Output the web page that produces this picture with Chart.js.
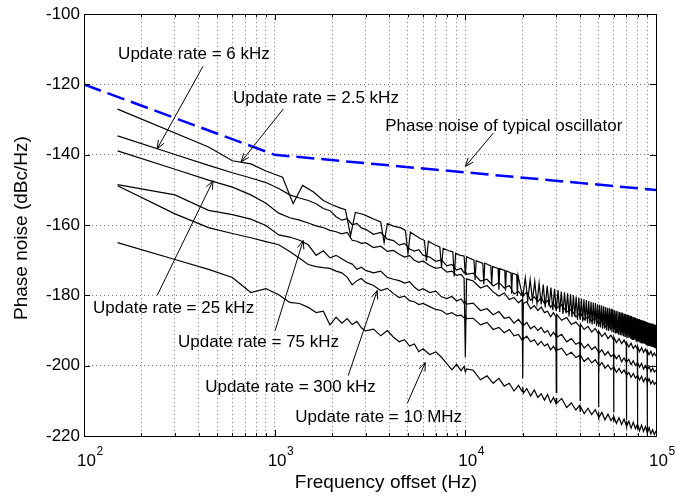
<!DOCTYPE html>
<html>
<head>
<meta charset="utf-8">
<title>Phase noise vs frequency offset</title>
<script src="https://cdn.jsdelivr.net/npm/chart.js@4.4.1/dist/chart.umd.min.js"></script>
<style>
    html, body { margin: 0; padding: 0; background: #fff; }
    #wrap { position: relative; width: 686px; height: 497px; }
</style>
</head>
<body>
<div id="wrap"><canvas id="pnChart"></canvas></div>
<script>
// ===================================
// PHASE NOISE vs FREQUENCY OFFSET
// ===================================

// Frequency bins (Hz) shared by the 6k / 25k / 75k / 300k / 10M curves
const freqGrid = [
    150, 300, 450, 600, 750, 900, 1050, 1200, 1350, 1500, 1650, 1800, 1950, 2100, 2250, 2400, 2550, 2700, 2850, 3000,
    3300, 3600, 3900, 4200, 4500, 4800, 5100, 5400, 5700, 6000,
    6500, 7000, 7500, 8000, 8500, 9000, 9500, 9850, 10000, 10150,
    11000, 12000, 13000, 14000, 15000, 16000, 17000, 18000, 19000, 19850, 20000, 20150,
    21000, 22000, 23000, 24000, 25000, 26000, 27000, 28000, 29000, 29850, 30000, 30150,
    32000, 34000, 36000, 38000, 39850, 40000, 40150, 42000, 44000, 46000, 48000, 49850, 50000, 50150,
    52000, 54000, 56000, 58000, 59850, 60000, 60150, 62000, 64000, 66000, 68000, 69850, 70000, 70150,
    72000, 74000, 76000, 78000, 79850, 80000, 80150, 82000, 84000, 86000, 88000, 89850, 90000, 90150,
    92000, 94000, 96000, 98000, 100000
];

// Update rate = 6 kHz (dBc/Hz)
const pnRate6k = [
    -134.6, -139.9, -143.0, -145.1, -146.6, -147.9, -149.6, -151.4, -152.3, -153.0, -153.9, -155.3, -155.9, -157.6, -158.6, -158.2, -159.9, -159.5, -160.8, -161.2,
    -162.6, -162.1, -164.0, -164.4, -165.7, -165.2, -166.8, -167.4, -167.0, -168.6,
    -169.1, -170.3, -169.9, -171.6, -171.2, -172.8, -172.3, -173.6, -173.1, -174.0,
    -173.7, -175.9, -175.4, -177.3, -176.3, -177.9, -177.2, -179.6, -178.9, -180.1, -179.0, -180.0,
    -179.1, -181.4, -180.4, -181.8, -180.6, -182.3, -181.5, -183.4, -182.3, -183.8, -182.7, -183.6,
    -182.7, -184.7, -184.1, -186.1, -185.1, -186.2, -185.0, -186.9, -186.1, -187.3, -186.3, -188.1, -187.1, -188.3,
    -187.1, -189.0, -188.3, -189.5, -188.4, -189.5, -188.6, -190.3, -189.0, -190.4, -189.4, -191.0, -190.1, -191.1,
    -190.1, -191.8, -190.7, -191.9, -190.8, -192.1, -191.0, -192.6, -191.7, -192.9, -191.8, -193.0, -192.1, -193.5,
    -192.4, -193.6, -192.4, -194.1, -193.3
];

// Update rate = 25 kHz (with the deep spurs every 10 kHz)
const pnRate25k = [
    -138.9, -144.1, -147.2, -149.2, -151.4, -153.8, -156.6, -157.9, -158.6, -159.4, -160.2, -160.7, -161.5, -161.9, -162.5, -162.1, -164.3, -164.6, -165.2, -165.0,
    -166.4, -166.0, -167.5, -167.2, -168.3, -169.1, -168.7, -170.0, -170.6, -170.2,
    -171.5, -172.3, -172.0, -173.4, -173.1, -174.3, -174.0, -175.1, -197.6, -175.3,
    -175.9, -177.9, -177.2, -179.0, -180.2, -179.3, -181.2, -180.6, -182.1, -181.2, -203.6, -182.3,
    -181.8, -183.8, -182.9, -184.3, -183.3, -184.9, -184.5, -186.1, -184.9, -186.1, -207.6, -185.4,
    -187.1, -186.3, -188.3, -187.6, -188.9, -209.9, -188.2, -189.7, -188.8, -190.4, -189.4, -190.9, -211.8, -190.2,
    -191.7, -190.7, -192.3, -191.3, -192.7, -213.3, -191.8, -193.4, -192.3, -193.7, -192.7, -194.1, -215.5, -193.4,
    -194.7, -193.6, -195.1, -194.2, -195.3, -216.4, -194.5, -196.0, -194.8, -196.2, -195.3, -196.5, -218.4, -195.7,
    -196.9, -195.9, -197.2, -196.4, -197.3
];

// Update rate = 75 kHz
const pnRate75k = [
    -148.5, -151.4, -155.8, -157.0, -158.3, -160.1, -162.8, -163.4, -164.3, -165.6, -168.6, -167.3, -169.3, -168.6, -169.6, -170.5, -171.1, -172.6, -172.0, -172.9,
    -173.6, -173.1, -174.9, -175.4, -175.8, -176.5, -176.1, -177.6, -178.6, -178.1,
    -179.2, -178.8, -180.4, -180.9, -180.3, -181.6, -181.0, -182.2, -181.7, -182.5,
    -182.2, -184.3, -183.8, -185.5, -184.6, -186.5, -186.2, -187.9, -186.8, -188.2, -187.4, -188.6,
    -187.7, -189.5, -188.7, -190.0, -189.1, -190.6, -190.0, -191.6, -190.5, -191.6, -190.9, -191.9,
    -191.1, -193.2, -192.3, -193.9, -193.3, -194.4, -193.3, -195.0, -193.9, -195.4, -194.6, -196.0, -195.3, -196.5,
    -195.5, -197.0, -196.0, -197.4, -196.8, -198.0, -196.7, -198.0, -197.0, -198.9, -197.8, -199.0, -197.9, -198.9,
    -198.2, -199.7, -198.6, -199.9, -199.2, -200.3, -199.1, -200.4, -199.3, -201.0, -200.0, -201.1, -200.1, -201.2,
    -200.2, -201.7, -200.7, -201.8, -201.2
];

// Update rate = 300 kHz
const pnRate300k = [
    -148.8, -156.8, -160.7, -162.4, -163.6, -164.7, -165.6, -167.5, -169.4, -171.2, -171.8, -172.1, -172.3, -173.1, -173.6, -174.8, -177.0, -175.8, -175.2, -176.3,
    -177.2, -178.6, -178.0, -179.5, -180.6, -180.2, -181.5, -181.8, -182.6, -182.3,
    -183.2, -184.0, -184.3, -185.4, -184.9, -185.8, -185.6, -186.4, -185.9, -186.6,
    -186.5, -188.4, -187.7, -189.7, -189.1, -190.6, -189.7, -191.5, -191.1, -192.7, -191.4, -192.4,
    -191.6, -193.2, -192.6, -194.1, -193.1, -194.4, -193.8, -195.5, -194.5, -195.7, -194.7, -195.6,
    -195.0, -197.0, -196.2, -197.7, -197.1, -198.2, -197.0, -198.8, -197.8, -199.2, -198.3, -199.7, -198.9, -200.2,
    -199.1, -200.7, -199.8, -201.1, -200.4, -201.5, -200.3, -201.9, -200.8, -202.1, -201.2, -202.5, -201.6, -202.7,
    -201.9, -203.3, -202.2, -203.5, -202.8, -203.8, -202.7, -204.1, -203.0, -204.6, -203.5, -204.6, -203.6, -204.8,
    -203.7, -205.2, -204.3, -205.3, -204.7
];

// Update rate = 10 MHz
const pnRate10M = [
    -165.0, -169.8, -172.6, -174.9, -179.2, -178.1, -179.8, -182.0, -182.3, -183.4, -184.9, -184.5, -188.4, -186.2, -187.9, -186.6, -188.3, -187.4, -189.2, -190.1,
    -189.6, -191.5, -190.0, -191.9, -193.2, -192.6, -194.4, -193.8, -196.0, -195.2,
    -196.8, -196.1, -197.6, -199.4, -201.2, -199.6, -201.4, -200.2, -201.8, -200.9,
    -201.3, -204.0, -202.9, -205.0, -203.6, -205.8, -205.0, -207.2, -205.6, -207.3, -206.1, -207.8,
    -206.5, -208.6, -206.9, -209.0, -208.0, -209.8, -208.2, -210.5, -209.0, -210.7, -209.1, -210.7,
    -209.3, -211.9, -210.6, -212.6, -211.2, -213.0, -211.6, -213.6, -212.1, -213.9, -212.5, -214.4, -213.1, -214.8,
    -213.3, -215.4, -213.8, -215.6, -214.6, -216.0, -214.4, -216.4, -214.8, -216.7, -215.2, -217.0, -215.7, -217.3,
    -215.8, -217.8, -216.1, -217.9, -216.7, -218.2, -216.6, -218.5, -216.9, -218.7, -217.3, -219.0, -217.6, -219.2,
    -217.6, -219.4, -218.2, -219.6, -218.6
];

// Update rate = 2.5 kHz has its own bins (comb of spurs every 1.25 kHz)
const freqRate2k5 = [
    150, 450, 600, 750, 900, 1100, 1250, 1400, 1600, 1800, 2000, 2200, 2350, 2500, 2650, 2900, 3100, 3350, 3600, 3750,
    3900, 4200, 4600, 4850, 5000, 5150, 5500, 5800, 6100, 6250, 6400, 6900, 7350, 7500, 7650, 8200, 8600, 8750, 8900, 9400,
    9850, 10000, 10150, 11100, 11250, 11400, 12350, 12500, 12650, 13600, 13750, 13900,
    14850, 15000, 15150, 16100, 16250, 16400, 17350, 17500, 17650, 18600, 18750, 18900,
    20000, 20625, 21250, 21875, 22500, 23125, 23750, 24375, 25000, 25625, 26250, 26875, 27500, 28125, 28750, 29375,
    30000, 30625, 31250, 31875, 32500, 33125, 33750, 34375, 35000, 35625, 36250, 36875, 37500, 38125, 38750, 39375,
    40000, 40625, 41250, 41875, 42500, 43125, 43750, 44375, 45000, 45625, 46250, 46875, 47500, 48125, 48750, 49375,
    50000, 50625, 51250, 51875, 52500, 53125, 53750, 54375, 55000, 55625, 56250, 56875, 57500, 58125, 58750, 59375,
    60000, 60625, 61250, 61875, 62500, 63125, 63750, 64375, 65000, 65625, 66250, 66875, 67500, 68125, 68750, 69375,
    70000, 70625, 71250, 71875, 72500, 73125, 73750, 74375, 75000, 75625, 76250, 76875, 77500, 78125, 78750, 79375,
    80000, 80625, 81250, 81875, 82500, 83125, 83750, 84375, 85000, 85625, 86250, 86875, 87500, 88125, 88750, 89375,
    90000, 90625, 91250, 91875, 92500, 93125, 93750, 94375, 95000, 95625, 96250, 96875, 97500, 98125, 98750, 99375,
    100000
];
const pnRate2k5 = [
    -127.0, -137.8, -141.7, -142.6, -144.6, -146.4, -153.9, -148.7, -150.6, -153.0, -154.2, -155.1, -155.6, -163.0, -156.4, -156.9, -157.6, -158.4, -159.1, -165.0,
    -159.6, -160.3, -160.8, -161.5, -168.1, -162.0, -163.0, -163.8, -164.4, -170.2, -164.6, -165.6, -166.2, -172.0, -166.6, -167.3, -167.6, -174.6, -168.0, -168.6,
    -168.8, -174.2, -169.0, -170.0, -175.6, -170.1, -170.9, -176.8, -170.8, -171.6, -177.0, -171.8,
    -172.3, -178.4, -172.4, -172.9, -178.6, -173.0, -173.6, -179.5, -173.7, -174.1, -180.2, -174.3,
    -180.6, -175.0, -181.5, -175.5, -181.4, -176.0, -182.3, -176.5, -182.6, -176.9, -183.4, -177.3, -183.1, -177.8, -184.2, -178.1,
    -184.5, -178.5, -184.7, -178.9, -185.3, -179.1, -185.1, -179.4, -186.0, -179.7, -186.2, -180.0, -186.0, -180.3, -186.9, -180.6,
    -187.0, -180.9, -187.4, -181.1, -187.2, -181.3, -187.9, -181.6, -188.0, -181.8, -188.3, -182.0, -188.1, -182.2, -188.8, -182.5,
    -189.0, -182.7, -189.1, -182.9, -189.5, -183.1, -189.4, -183.3, -189.9, -183.5, -190.1, -183.6, -190.0, -183.8, -190.5, -184.0,
    -190.6, -184.2, -190.8, -184.4, -190.7, -184.5, -191.2, -184.7, -191.3, -184.9, -191.4, -185.0, -191.6, -185.2, -191.8, -185.3,
    -192.0, -185.5, -192.1, -185.6, -192.0, -185.8, -192.4, -185.9, -192.5, -186.1, -192.7, -186.2, -192.6, -186.4, -193.0, -186.5,
    -193.1, -186.7, -193.2, -186.8, -193.3, -186.9, -193.5, -187.0, -193.6, -187.2, -193.7, -187.3, -193.8, -187.4, -194.0, -187.6,
    -194.1, -187.7, -194.2, -187.8, -194.3, -187.9, -194.5, -188.0, -194.6, -188.1, -194.7, -188.2, -194.8, -188.3, -195.0, -188.5,
    -195.1
];

// Phase noise of a typical oscillator
const freqOsc = [100, 1000, 100000];
const pnOsc = [-120, -140, -150];

// Axis ticks
const xTickValues = [
    100, 200, 300, 400, 500, 600, 700, 800, 900,
    1000, 2000, 3000, 4000, 5000, 6000, 7000, 8000, 9000,
    10000, 20000, 30000, 40000, 50000, 60000, 70000, 80000, 90000,
    100000
];
const xMajor = [100, 1000, 10000, 100000];
const xExponents = [2, 3, 4, 5];

// Text annotations with arrows (data coordinates: [Hz, dBc/Hz])
const notes = [
    { text: 'Update rate = 6 kHz', at: [151, -111.4], from: [421, -114.8], to: [242, -138.3] },
    { text: 'Update rate = 2.5 kHz', at: [605, -123.8], from: [1108, -127.0], to: [667, -142.0] },
    { text: 'Phase noise of typical oscillator', at: [3800, -131.8], from: [14030, -133.8], to: [10000, -143.3] },
    { text: 'Update rate = 25 kHz', at: [111.5, -183.7], from: [242, -180.0], to: [475, -147.4] },
    { text: 'Update rate = 75 kHz', at: [311, -193.4], from: [1006, -190.0], to: [1411, -164.4] },
    { text: 'Update rate = 300 kHz', at: [432, -206.2], from: [2431, -202.8], to: [3451, -178.6] },
    { text: 'Update rate = 10 MHz', at: [1283, -214.7], from: [4961, -210.7], to: [6166, -199.1] }
];

const FONT = '"Liberation Sans", Arial, Helvetica, sans-serif';
Chart.defaults.font.family = FONT;

function toPoints(freqs, values) {
    return freqs.map((f, i) => ({ x: f, y: values[i] }));
}

function blackCurve(label, freqs, values) {
    return {
        label: label,
        data: toPoints(freqs, values),
        borderColor: '#000',
        borderWidth: 1.2,
        pointRadius: 0,
        tension: 0,
        fill: false
    };
}

// Open arrowhead like MATLAB annotations
function drawArrow(ctx, x0, y0, x1, y1) {
    ctx.beginPath();
    ctx.moveTo(x0, y0);
    ctx.lineTo(x1, y1);
    ctx.stroke();
    const ang = Math.atan2(y1 - y0, x1 - x0);
    const len = 9;
    const spread = 0.38;
    ctx.beginPath();
    ctx.moveTo(x1 - len * Math.cos(ang - spread), y1 - len * Math.sin(ang - spread));
    ctx.lineTo(x1, y1);
    ctx.lineTo(x1 - len * Math.cos(ang + spread), y1 - len * Math.sin(ang + spread));
    ctx.stroke();
}

// Box, inward ticks, x labels with exponents, axis titles, annotations
const frame = {
    id: 'frame',
    afterDraw(chart) {
        const { ctx, chartArea: area, scales: { x, y } } = chart;
        ctx.save();
        ctx.strokeStyle = '#000';
        ctx.lineWidth = 1;

        ctx.beginPath();
        xTickValues.forEach(v => {
            const px = Math.round(x.getPixelForValue(v)) + 0.5;
            const len = xMajor.includes(v) ? 6 : 3;
            ctx.moveTo(px, area.bottom);
            ctx.lineTo(px, area.bottom - len);
            ctx.moveTo(px, area.top);
            ctx.lineTo(px, area.top + len);
        });
        y.ticks.forEach(t => {
            const py = Math.round(y.getPixelForValue(t.value)) + 0.5;
            ctx.moveTo(area.left, py);
            ctx.lineTo(area.left + 6, py);
            ctx.moveTo(area.right, py);
            ctx.lineTo(area.right - 6, py);
        });
        ctx.stroke();

        ctx.strokeRect(Math.round(area.left) + 0.5, Math.round(area.top) + 0.5,
            Math.round(area.right - area.left), Math.round(area.bottom - area.top));

        // x tick labels: 10^n
        ctx.fillStyle = '#000';
        ctx.textAlign = 'left';
        ctx.textBaseline = 'alphabetic';
        xMajor.forEach((v, i) => {
            const px = x.getPixelForValue(v) - 7;
            ctx.font = '17px ' + FONT;
            ctx.fillText('10', px, area.bottom + 30);
            const w = ctx.measureText('10').width;
            ctx.font = '12px ' + FONT;
            ctx.fillText(String(xExponents[i]), px + w + 0.5, area.bottom + 19);
        });

        // axis titles
        ctx.font = '19px ' + FONT;
        ctx.textAlign = 'center';
        ctx.textBaseline = 'middle';
        ctx.fillText('Frequency offset (Hz)', (area.left + area.right) / 2 + 16, area.bottom + 47);
        ctx.save();
        ctx.translate(22, (area.top + area.bottom) / 2 + 3);
        ctx.rotate(-Math.PI / 2);
        ctx.fillText('Phase noise (dBc/Hz)', 0, 0);
        ctx.restore();

        // annotations
        ctx.font = '17px ' + FONT;
        ctx.textAlign = 'left';
        ctx.textBaseline = 'middle';
        notes.forEach(n => {
            ctx.fillText(n.text, x.getPixelForValue(n.at[0]), y.getPixelForValue(n.at[1]));
            drawArrow(ctx,
                x.getPixelForValue(n.from[0]), y.getPixelForValue(n.from[1]),
                x.getPixelForValue(n.to[0]), y.getPixelForValue(n.to[1]));
        });
        ctx.restore();
    }
};

const gridStyle = { color: 'rgba(0,0,0,0.55)', lineWidth: 1, drawTicks: false };

new Chart(document.getElementById('pnChart'), {
    type: 'line',
    data: {
        datasets: [
            blackCurve('Update rate = 2.5 kHz', freqRate2k5, pnRate2k5),
            blackCurve('Update rate = 6 kHz', freqGrid, pnRate6k),
            blackCurve('Update rate = 25 kHz', freqGrid, pnRate25k),
            blackCurve('Update rate = 75 kHz', freqGrid, pnRate75k),
            blackCurve('Update rate = 300 kHz', freqGrid, pnRate300k),
            blackCurve('Update rate = 10 MHz', freqGrid, pnRate10M),
            {
                label: 'Phase noise of typical oscillator',
                data: toPoints(freqOsc, pnOsc),
                borderColor: '#0000ff',
                borderWidth: 2.5,
                borderDash: [18, 7],
                pointRadius: 0,
                tension: 0,
                fill: false
            }
        ]
    },
    options: {
        responsive: true,
        maintainAspectRatio: false,
        animation: false,
        layout: { padding: { top: 13, right: 30, left: 0, bottom: 0 } },
        plugins: {
            legend: { display: false },
            tooltip: { enabled: false }
        },
        scales: {
            x: {
                type: 'logarithmic',
                min: 100,
                max: 100000,
                afterBuildTicks: scale => { scale.ticks = xTickValues.map(v => ({ value: v })); },
                afterFit: scale => { scale.height = 61; },
                ticks: { display: false },
                grid: gridStyle,
                border: { display: false, dash: [1, 3] }
            },
            y: {
                min: -220,
                max: -100,
                afterFit: scale => { scale.width = 84; },
                ticks: {
                    stepSize: 20,
                    padding: 4,
                    color: '#000',
                    font: { size: 17 },
                    callback: v => String(v)
                },
                grid: gridStyle,
                border: { display: false, dash: [1, 3] }
            }
        }
    },
    plugins: [frame]
});
</script>
</body>
</html>
